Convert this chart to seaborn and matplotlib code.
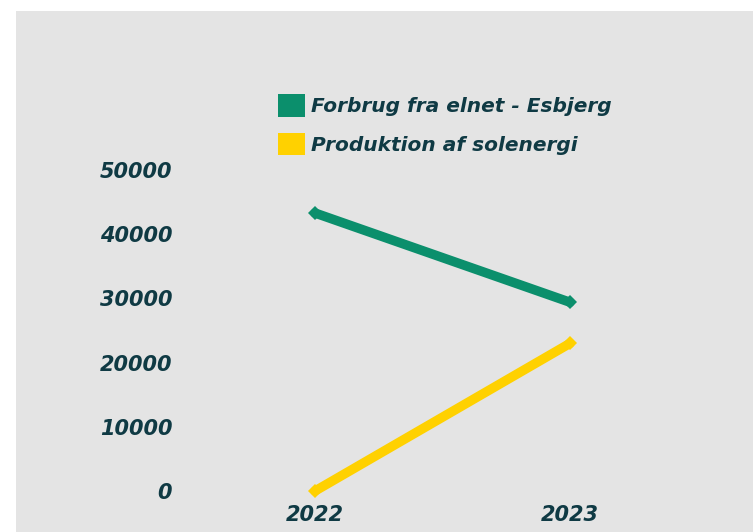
import pandas as pd
import matplotlib
matplotlib.use("Agg")
import matplotlib.pyplot as plt
import seaborn as sns
from matplotlib.patches import Patch, Rectangle

# Data
years = [2022, 2023]
forbrug = [43300, 29400]
solenergi = [0, 23000]
series_names = ['Forbrug fra elnet - Esbjerg', 'Produktion af solenergi']
yticks = [0, 10000, 20000, 30000, 40000, 50000]

colors = ['#0b8f6c', '#ffd100']
text_color = '#0f3a44'
bg_color = '#e4e4e4'

df = pd.DataFrame({
    'year': years * 2,
    'value': forbrug + solenergi,
    'serie': [series_names[0]] * 2 + [series_names[1]] * 2,
})

sns.set_theme(style="white")
plt.rcParams['font.family'] = ['DejaVu Sans']

W, H = 753, 532
fig = plt.figure(figsize=(W / 100, H / 100), dpi=100)
fig.patch.set_facecolor('white')
# grey panel behind the chart
fig.add_artist(Rectangle((16 / W, 0), 1 - 16 / W, 1 - 11 / H, transform=fig.transFigure,
                         facecolor=bg_color, edgecolor='none', zorder=0))

# axes box in pixels (from bottom-left)
left, right, bottom, top = 200, 700, 30, 400
ax = fig.add_axes([left / W, bottom / H, (right - left) / W, (top - bottom) / H])
ax.patch.set_alpha(0)

sns.lineplot(data=df, x='year', y='value', hue='serie', palette=colors, ax=ax,
             linewidth=6.8, marker='D', markersize=7.5, markeredgewidth=0, legend=False)
for ln in ax.lines:
    ln.set_clip_on(False)

# map data to the pixel positions of the reference
px_per_year = 255
ax.set_xlim(2022 - (315 - left) / px_per_year, 2023 + (right - 570) / px_per_year)
px_per_unit = 321 / 50000
ax.set_ylim(-(41 - bottom) / px_per_unit, 50000 + (top - 362) / px_per_unit)

ax.set_xticks(years)
ax.set_xticklabels([str(y) for y in years])
ax.set_yticks(yticks)
ax.set_yticklabels([str(v) for v in yticks])
ax.tick_params(axis='both', length=0, labelsize=15, labelcolor=text_color)
ax.tick_params(axis='y', pad=20)
ax.tick_params(axis='x', pad=2)
for lbl in ax.get_xticklabels() + ax.get_yticklabels():
    lbl.set_fontweight('bold')
    lbl.set_fontstyle('italic')
ax.set_xlabel('')
ax.set_ylabel('')
sns.despine(ax=ax, left=True, bottom=True)

handles = [Patch(facecolor=c, edgecolor='none') for c in colors]
leg = ax.legend(handles, series_names, loc='upper left',
                bbox_to_anchor=(278 / W, 1 - 94 / H), bbox_transform=fig.transFigure,
                frameon=False, borderpad=0, borderaxespad=0,
                handlelength=1.35, handleheight=1.35, handletextpad=0.3,
                labelspacing=0.8,
                prop={'size': 14.5, 'weight': 'bold', 'style': 'italic'})
for t in leg.get_texts():
    t.set_color(text_color)

fig.savefig('out.png', dpi=100)
